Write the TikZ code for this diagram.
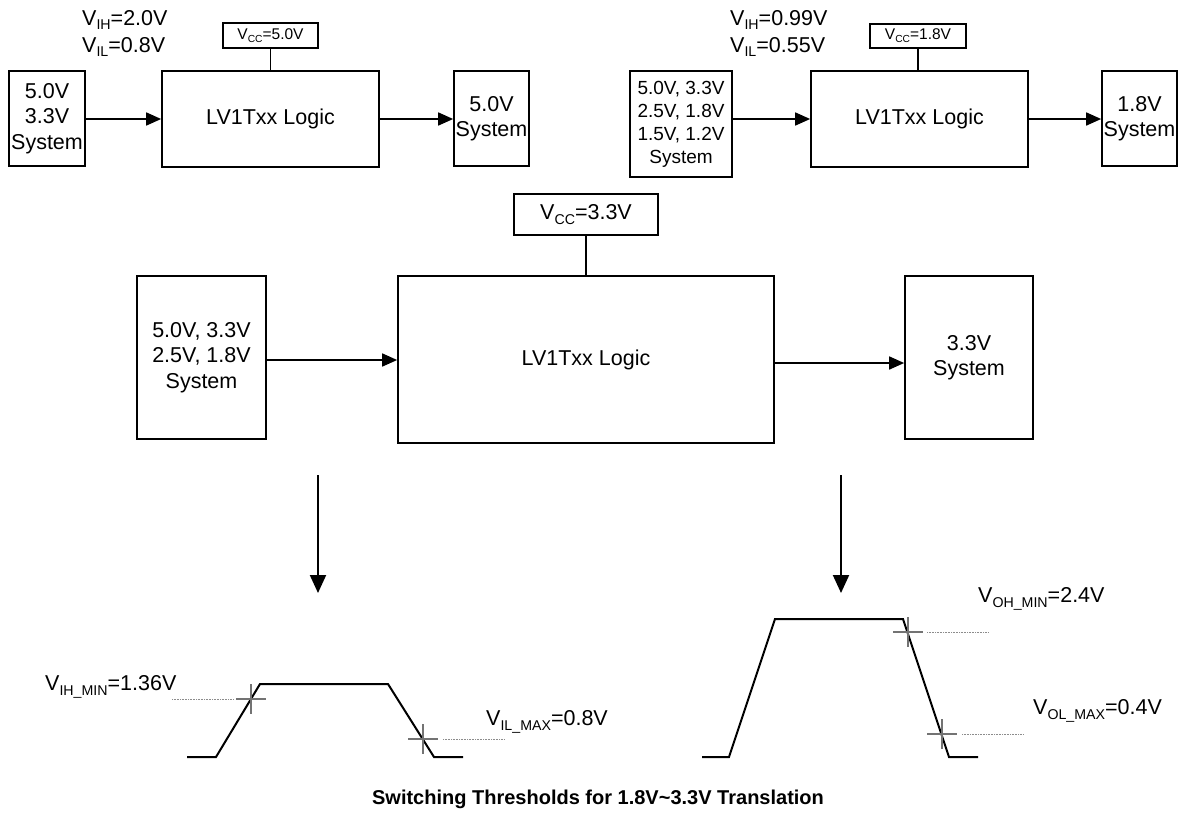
\documentclass[tikz,border=0pt]{standalone}
\usepackage{fontspec}
\setmainfont{Liberation Sans}
\usetikzlibrary{arrows.meta}
\newcommand\lo[1]{\raisebox{-0.2em}{\scalebox{0.66}{#1}}}
\begin{document}
\begin{tikzpicture}[x=1pt,y=-1pt,
  box/.style={draw,line width=1.7pt,inner sep=0pt,align=center},
  big/.style={font=\fontsize{21.5}{25.5}\selectfont},
  mid/.style={font=\fontsize{19}{23}\selectfont},
  small/.style={font=\fontsize{15.5}{18}\selectfont},
  lbl/.style={inner sep=0pt,anchor=west},
  arr/.style={line width=1.7pt,-{Triangle[length=15pt,width=13pt]}},
  darr/.style={line width=2pt,-{Triangle[length=18pt,width=16pt]}},
  wire/.style={line width=1.7pt},
  wave/.style={line width=2pt,line join=miter},
  tick/.style={draw=black!55,line width=1.5pt},
  guide/.style={draw=black!45,line width=1pt,dash pattern=on 1pt off 0.6pt}]
\useasboundingbox (0,0) rectangle (1185,820);

% ---------- top-left panel ----------
\node[box,big,minimum width=76pt,minimum height=95pt] (L1) at (47,118.5) {5.0V\\3.3V\\System};
\node[box,big,minimum width=217pt,minimum height=96pt] (G1) at (270.5,119) {LV1Txx Logic};
\node[box,small,minimum width=95pt,minimum height=25pt] (V1) at (270.5,35.5) {V\lo{CC}=5.0V};
\node[box,big,minimum width=75pt,minimum height=95pt] (R1) at (491.5,118.5) {5.0V\\System};
\node[lbl,big] (t1a) at (82,20) {V\lo{IH}=2.0V};
\node[lbl,big] (t1b) at (82,47) {V\lo{IL}=0.8V};
\draw[wire] (V1.south) -- (V1.south |- G1.north);
\draw[arr] (L1.east |- G1) -- (G1.west);
\draw[arr] (G1.east) -- (R1.west |- G1);

% ---------- top-right panel ----------
\node[box,mid,minimum width=102pt,minimum height=106pt] (L2) at (681,124) {5.0V, 3.3V\\2.5V, 1.8V\\1.5V, 1.2V\\System};
\node[box,big,minimum width=217pt,minimum height=96pt] (G2) at (919.5,119) {LV1Txx Logic};
\node[box,small,minimum width=96pt,minimum height=24pt] (V2) at (918,36) {V\lo{CC}=1.8V};
\node[box,big,minimum width=75pt,minimum height=95pt] (R2) at (1139.5,118.5) {1.8V\\System};
\node[lbl,big] (t2a) at (730,20) {V\lo{IH}=0.99V};
\node[lbl,big] (t2b) at (730,47) {V\lo{IL}=0.55V};
\draw[wire] (V2.south) -- (V2.south |- G2.north);
\draw[arr] (L2.east |- G2) -- (G2.west);
\draw[arr] (G2.east) -- (R2.west |- G2);

% ---------- middle panel ----------
\node[box,big,minimum width=144pt,minimum height=41pt] (V3) at (586,214.5) {V\lo{CC}=3.3V};
\node[box,big,minimum width=376pt,minimum height=167pt] (G3) at (586,359.5) {LV1Txx Logic};
\node[box,big,minimum width=129pt,minimum height=163pt] (L3) at (201.5,357.5) {5.0V, 3.3V\\2.5V, 1.8V\\System};
\node[box,big,minimum width=128pt,minimum height=163pt] (R3) at (969,357.5) {3.3V\\System};
\draw[wire] (V3) -- (G3.north);
\draw[arr] (L3.east |- 0,360) -- (G3.west |- 0,360);
\draw[arr] (G3.east |- 0,363) -- (R3.west |- 0,363);

% ---------- down arrows ----------
\coordinate (d1s) at (318,475);
\coordinate (d1e) at (318,593);
\coordinate (d2s) at (841,475);
\coordinate (d2e) at (841,593);
\draw[darr] (d1s) -- (d1e);
\draw[darr] (d2s) -- (d2e);

% ---------- bottom-left waveform ----------
\draw[wave] (187,757) -- (216,757) -- (260,684) -- (388,684) -- (434,757) -- (463,757);
\draw[tick] (236,699) -- (266,699) (251,684) -- (251,714);
\draw[tick] (408,739) -- (438,739) (423,724) -- (423,754);
\draw[guide] (172,699) -- (234,699);
\draw[guide] (443,739) -- (504,739);
\node[lbl,big] (vih) at (45,687) {V\lo{IH\_MIN}=1.36V};
\node[lbl,big] (vil) at (486,722) {V\lo{IL\_MAX}=0.8V};

% ---------- bottom-right waveform ----------
\draw[wave] (702,757) -- (729,757) -- (775,619) -- (903,619) -- (949,757) -- (978,757);
\draw[tick] (893,632) -- (923,632) (908,617) -- (908,647);
\draw[tick] (927,734) -- (957,734) (942,719) -- (942,749);
\draw[guide] (927,632) -- (988,632);
\draw[guide] (962,734) -- (1023,734);
\node[lbl,big] (voh) at (978,599) {V\lo{OH\_MIN}=2.4V};
\node[lbl,big] (vol) at (1033,711) {V\lo{OL\_MAX}=0.4V};

% ---------- caption ----------
\node[font=\bfseries\fontsize{20}{24}\selectfont,inner sep=0pt] (cap) at (598,799) {Switching Thresholds for 1.8V\textasciitilde3.3V Translation};
\end{tikzpicture}
\end{document}
